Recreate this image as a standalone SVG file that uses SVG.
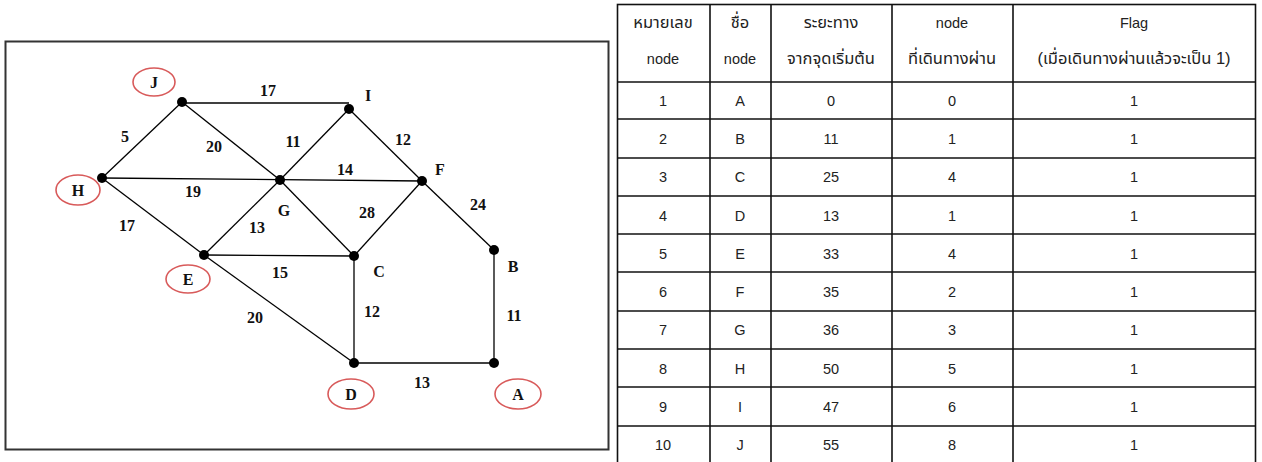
<svg xmlns="http://www.w3.org/2000/svg" width="1262" height="462" viewBox="0 0 1262 462">
<style>
.e{stroke:#000;stroke-width:1.3;fill:none}
.dot{fill:#000}
.lbl{font-family:"Liberation Serif","Times New Roman",serif;font-weight:bold;font-size:16px;fill:#111;text-anchor:middle}
.ring{fill:#fff;stroke:#d85a5a;stroke-width:1.6}
.tl{stroke:#111;stroke-width:1.6;fill:none}
.tt{font-family:"Liberation Sans","Noto Sans Thai","Noto Sans",Arial,sans-serif;font-size:14.5px;fill:#222;text-anchor:middle}
.th{font-family:"Liberation Sans","Noto Sans Thai","Noto Sans",Arial,sans-serif;font-size:16.5px;fill:#222;text-anchor:middle}
</style>
<rect x="0" y="0" width="1262" height="462" fill="#fff"/>
<rect x="5.5" y="41.5" width="603" height="408" fill="#fff" stroke="#333" stroke-width="2"/>
<g id="connectors">
<line class="e" x1="182" y1="103" x2="349" y2="103"/>
<line class="e" x1="182" y1="102" x2="102" y2="178"/>
<line class="e" x1="182" y1="102" x2="280" y2="180"/>
<line class="e" x1="102" y1="178" x2="422" y2="181"/>
<line class="e" x1="102" y1="178" x2="204" y2="255"/>
<line class="e" x1="280" y1="180" x2="349" y2="109"/>
<line class="e" x1="349" y1="109" x2="422" y2="181"/>
<line class="e" x1="280" y1="180" x2="354" y2="256"/>
<line class="e" x1="354" y1="256" x2="422" y2="181"/>
<line class="e" x1="280" y1="180" x2="204" y2="255"/>
<line class="e" x1="204" y1="255" x2="354" y2="256"/>
<line class="e" x1="204" y1="255" x2="354" y2="363"/>
<line class="e" x1="354" y1="256" x2="354" y2="363"/>
<line class="e" x1="354" y1="363" x2="494" y2="363"/>
<line class="e" x1="494" y1="363" x2="494" y2="250"/>
<line class="e" x1="494" y1="250" x2="422" y2="181"/>
<text class="lbl" x="268" y="96">17</text>
<text class="lbl" x="125" y="142">5</text>
<text class="lbl" x="214" y="152">20</text>
<text class="lbl" x="293" y="147">11</text>
<text class="lbl" x="193" y="197">19</text>
<text class="lbl" x="127" y="231">17</text>
<text class="lbl" x="257" y="233">13</text>
<text class="lbl" x="403" y="145">12</text>
<text class="lbl" x="345" y="175">14</text>
<text class="lbl" x="367" y="218">28</text>
<text class="lbl" x="478" y="210">24</text>
<text class="lbl" x="280" y="278">15</text>
<text class="lbl" x="255" y="323">20</text>
<text class="lbl" x="372" y="317">12</text>
<text class="lbl" x="514" y="321">11</text>
<text class="lbl" x="422" y="388">13</text>
</g>
<g id="node-J"><circle class="dot" cx="182" cy="102" r="5"/><ellipse class="ring" cx="154" cy="82" rx="21" ry="14"/><text class="lbl" x="154" y="88">J</text></g>
<g id="node-H"><circle class="dot" cx="102" cy="178" r="5"/><ellipse class="ring" cx="78" cy="190" rx="22" ry="15"/><text class="lbl" x="78" y="196">H</text></g>
<g id="node-G"><circle class="dot" cx="280" cy="180" r="5"/><text class="lbl" x="284" y="216">G</text></g>
<g id="node-I"><circle class="dot" cx="349" cy="109" r="5"/><text class="lbl" x="368" y="101">I</text></g>
<g id="node-F"><circle class="dot" cx="422" cy="181" r="5"/><text class="lbl" x="440" y="175">F</text></g>
<g id="node-E"><circle class="dot" cx="204" cy="255" r="5"/><ellipse class="ring" cx="188" cy="279" rx="22" ry="14"/><text class="lbl" x="188" y="285">E</text></g>
<g id="node-C"><circle class="dot" cx="354" cy="256" r="5"/><text class="lbl" x="379" y="277">C</text></g>
<g id="node-B"><circle class="dot" cx="494" cy="250" r="5"/><text class="lbl" x="513" y="272">B</text></g>
<g id="node-D"><circle class="dot" cx="354" cy="363" r="5"/><ellipse class="ring" cx="351" cy="394" rx="23" ry="15"/><text class="lbl" x="351" y="400">D</text></g>
<g id="node-A"><circle class="dot" cx="494" cy="363" r="5"/><ellipse class="ring" cx="518" cy="394" rx="23" ry="15"/><text class="lbl" x="518" y="400">A</text></g>
<g id="table">
<rect class="tl" x="617.5" y="4.5" width="638" height="470"/>
<line class="tl" x1="710" y1="4" x2="710" y2="462"/>
<line class="tl" x1="771" y1="4" x2="771" y2="462"/>
<line class="tl" x1="892" y1="4" x2="892" y2="462"/>
<line class="tl" x1="1013" y1="4" x2="1013" y2="462"/>
<line class="tl" x1="617" y1="82" x2="1256" y2="82"/>
<line class="tl" x1="617" y1="119" x2="1256" y2="119"/>
<line class="tl" x1="617" y1="158" x2="1256" y2="158"/>
<line class="tl" x1="617" y1="196" x2="1256" y2="196"/>
<line class="tl" x1="617" y1="234" x2="1256" y2="234"/>
<line class="tl" x1="617" y1="272" x2="1256" y2="272"/>
<line class="tl" x1="617" y1="311" x2="1256" y2="311"/>
<line class="tl" x1="617" y1="349" x2="1256" y2="349"/>
<line class="tl" x1="617" y1="387" x2="1256" y2="387"/>
<line class="tl" x1="617" y1="426" x2="1256" y2="426"/>
<text class="th" x="663" y="28">หมายเลข</text><text class="tt" x="663" y="64">node</text>
<text class="th" x="740" y="28">ชื่อ</text><text class="tt" x="740" y="64">node</text>
<text class="th" x="831" y="28">ระยะทาง</text><text class="th" x="831" y="64">จากจุดเริ่มต้น</text>
<text class="tt" x="952" y="28">node</text><text class="th" x="952" y="64">ที่เดินทางผ่าน</text>
<text class="tt" x="1134" y="28">Flag</text><text class="th" x="1134" y="64">(เมื่อเดินทางผ่านแล้วจะเป็น 1)</text>
<g>
<text class="tt" x="663" y="106">1</text><text class="tt" x="740" y="106">A</text><text class="tt" x="831" y="106">0</text><text class="tt" x="952" y="106">0</text><text class="tt" x="1134" y="106">1</text>
<text class="tt" x="663" y="144">2</text><text class="tt" x="740" y="144">B</text><text class="tt" x="831" y="144">11</text><text class="tt" x="952" y="144">1</text><text class="tt" x="1134" y="144">1</text>
<text class="tt" x="663" y="182">3</text><text class="tt" x="740" y="182">C</text><text class="tt" x="831" y="182">25</text><text class="tt" x="952" y="182">4</text><text class="tt" x="1134" y="182">1</text>
<text class="tt" x="663" y="221">4</text><text class="tt" x="740" y="221">D</text><text class="tt" x="831" y="221">13</text><text class="tt" x="952" y="221">1</text><text class="tt" x="1134" y="221">1</text>
<text class="tt" x="663" y="259">5</text><text class="tt" x="740" y="259">E</text><text class="tt" x="831" y="259">33</text><text class="tt" x="952" y="259">4</text><text class="tt" x="1134" y="259">1</text>
<text class="tt" x="663" y="297">6</text><text class="tt" x="740" y="297">F</text><text class="tt" x="831" y="297">35</text><text class="tt" x="952" y="297">2</text><text class="tt" x="1134" y="297">1</text>
<text class="tt" x="663" y="335">7</text><text class="tt" x="740" y="335">G</text><text class="tt" x="831" y="335">36</text><text class="tt" x="952" y="335">3</text><text class="tt" x="1134" y="335">1</text>
<text class="tt" x="663" y="374">8</text><text class="tt" x="740" y="374">H</text><text class="tt" x="831" y="374">50</text><text class="tt" x="952" y="374">5</text><text class="tt" x="1134" y="374">1</text>
<text class="tt" x="663" y="412">9</text><text class="tt" x="740" y="412">I</text><text class="tt" x="831" y="412">47</text><text class="tt" x="952" y="412">6</text><text class="tt" x="1134" y="412">1</text>
<text class="tt" x="663" y="450">10</text><text class="tt" x="740" y="450">J</text><text class="tt" x="831" y="450">55</text><text class="tt" x="952" y="450">8</text><text class="tt" x="1134" y="450">1</text>
</g>
</g>
</svg>
